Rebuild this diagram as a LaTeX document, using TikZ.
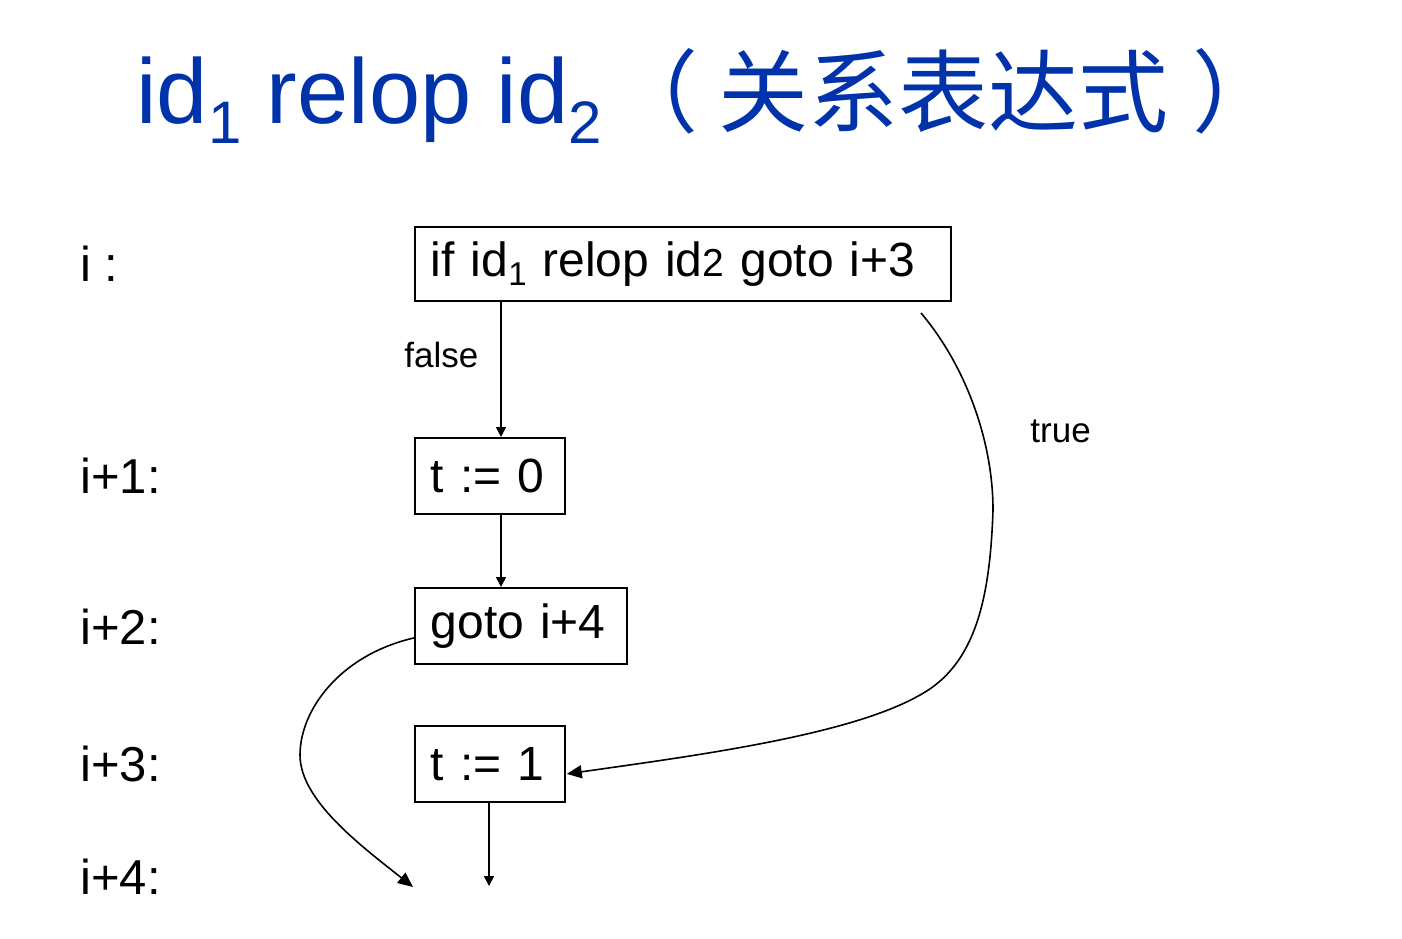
\documentclass[tikz,border=0pt]{standalone}
\usepackage{fontspec}
\setmainfont{Liberation Sans}
\newfontfamily\cjk{Noto Sans CJK SC}
\usetikzlibrary{arrows.meta,calc}
\definecolor{titleblue}{RGB}{0,51,170}
\begin{document}
\begin{tikzpicture}[x=0.5pt,y=-0.5pt,
  codebox/.style={draw, line width=0.9pt, anchor=north west, inner xsep=8pt, inner ysep=0pt,
    align=left, font=\fontsize{24}{28}\selectfont},
  rowlabel/.style={anchor=base west, inner sep=0pt, font=\fontsize{24.5}{28}\selectfont},
  edgelabel/.style={anchor=base west, inner sep=0pt, font=\fontsize{17.5}{20}\selectfont},
  conn/.style={line width=0.8pt, -{Triangle[length=5pt,width=5pt]}},
  bigconn/.style={line width=0.8pt, -{Triangle[length=7.5pt,width=6.5pt]}}]
\useasboundingbox (0,0) rectangle (1402,938);

% title
\node[anchor=base west, inner sep=0pt, text=titleblue, font=\fontsize{46}{50}\selectfont] (title) at (136,123)
  {id\raisebox{-10pt}{\fontsize{30}{30}\selectfont 1} relop id\raisebox{-10pt}{\fontsize{30}{30}\selectfont 2}};
\node[anchor=base west, inner sep=0pt, text=titleblue, font=\fontsize{45}{50}\selectfont\cjk] (titlecn) at (608,125)
  {（\kern10pt 关系表达式\kern12pt ）};

% row labels
\node[rowlabel] (li)  at (80,281) {i :};
\node[rowlabel] (li1) at (80,493) {i+1:};
\node[rowlabel] (li2) at (80,644) {i+2:};
\node[rowlabel] (li3) at (80,781) {i+3:};
\node[rowlabel] (li4) at (80,894) {i+4:};

% boxes
\node[codebox, text width=252pt, minimum height=37pt] (b1) at (414,226)
  {\mbox{if id\raisebox{-4.5pt}{\fontsize{16.5}{17}\selectfont 1} relop id{\fontsize{19.5}{20}\selectfont 2} goto i+3}};
\node[codebox, text width=59pt, minimum height=38pt] (b2) at (414,437) {\mbox{t := 0}};
\node[codebox, text width=90pt, minimum height=38pt] (b3) at (414,587) {\mbox{goto i+4}};
\node[codebox, text width=59pt, minimum height=38pt] (b4) at (414,725) {\mbox{t := 1}};

% edge labels
\node[edgelabel] (lfalse) at (404,367) {false};
\node[edgelabel] (ltrue) at (1030,442) {true};

% free ends
\coordinate (tstart) at (921,313);
\coordinate (e4a) at (413,887);
\coordinate (e4b) at (489,886);

% connectors
\draw[conn] ($(b1.south west)+(87,0)$) -- ($(b2.north west)+(87,0)$);
\draw[conn] ($(b2.south west)+(87,0)$) -- ($(b3.north west)+(87,0)$);
\draw[conn] ($(b4.south west)+(75,0)$) -- (e4b);
\draw[bigconn] ($(b3.west)+(0,12)$) .. controls (340,655) and (300,710) .. (300,755)
  .. controls (300,800) and (360,845) .. (e4a);
\draw[bigconn] (tstart) .. controls (965,365) and (993,440) .. (993,510)
  .. controls (990,600) and (975,665) .. (920,695)
  .. controls (850,735) and (700,755) .. ($(b4.east)+(1,10)$);
\end{tikzpicture}
\end{document}
